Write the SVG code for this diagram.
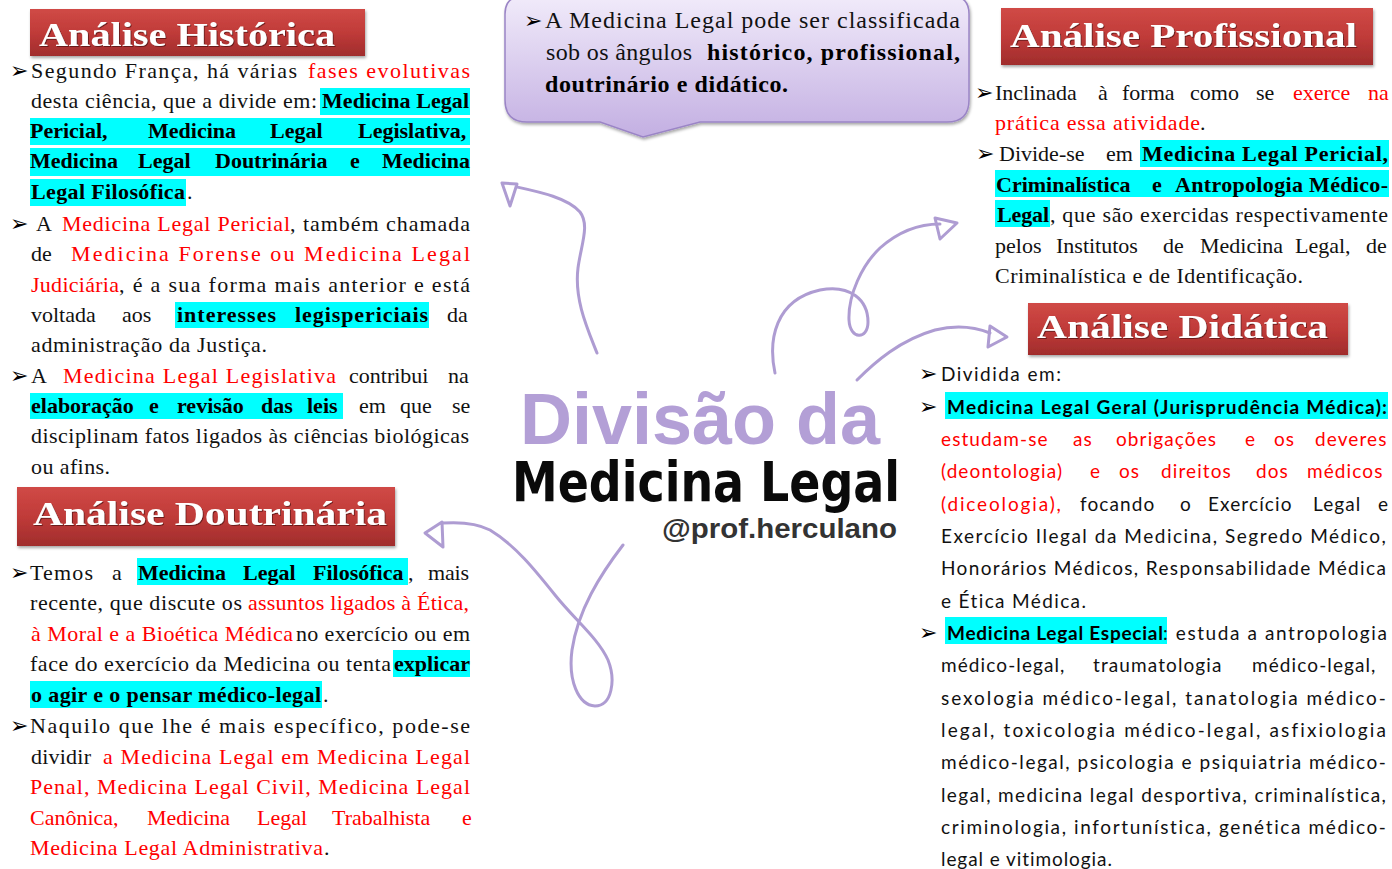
<svg xmlns="http://www.w3.org/2000/svg" width="1392" height="869" viewBox="0 0 1392 869">
<defs>
<linearGradient id="gRed" x1="0" y1="0" x2="0" y2="1"><stop offset="0" stop-color="#d04a46"/><stop offset="0.5" stop-color="#c03b39"/><stop offset="1" stop-color="#a02c2c"/></linearGradient>
<linearGradient id="gLav" x1="0" y1="0" x2="0" y2="1"><stop offset="0" stop-color="#f1ebfa"/><stop offset="1" stop-color="#c3afe2"/></linearGradient>
<filter id="sh" x="-5%" y="-15%" width="112%" height="140%"><feDropShadow dx="1" dy="2" stdDeviation="1.5" flood-color="#000" flood-opacity="0.35"/></filter>
<filter id="tsh" x="-5%" y="-20%" width="110%" height="150%"><feDropShadow dx="1" dy="1" stdDeviation="0.6" flood-color="#4a0a0a" flood-opacity="0.7"/></filter>
<style>
.s{font-family:"Liberation Serif","Times New Roman",serif;font-size:22px;fill:#111}
.cs{font-size:24px}
.k{font-family:Lato,"Open Sans",sans-serif;font-size:19px;fill:#111;letter-spacing:1.1px}
.b{font-weight:bold;fill:#000}
.r{fill:#ff0000}
.hl{fill:#00ffff}
.bu{font-family:"DejaVu Sans",sans-serif;font-size:22px;fill:#000}
.badge{fill:url(#gRed);filter:url(#sh)}
.bt{font-family:"Liberation Serif",serif;font-weight:bold;font-size:34px;fill:#fff;filter:url(#tsh)}
.cv{fill:none;stroke:#ae9cd2;stroke-width:3;stroke-linecap:round;stroke-linejoin:round}
</style>
</defs>
<rect width="1392" height="869" fill="#ffffff"/>

<g id="connectors">
<path class="cv" d="M597,353 C588,330 574,300 578,268 C581,245 590,225 580,212 C568,198 540,192 517,187"/>
<polygon class="cv" points="502,183 517,184 510,206"/>
<path class="cv" d="M775,373 C768,340 775,300 820,290 C850,284 868,300 868,322 C868,340 850,340 849,320 C848,295 862,265 880,248 C898,232 918,224 940,224"/>
<polygon class="cv" points="935,218 957,223 940,239"/>
<path class="cv" d="M857,380 C875,362 900,340 935,330 C955,325 975,327 990,333"/>
<polygon class="cv" points="990,326 1007,337 988,347"/>
<path class="cv" d="M623,545 C600,575 578,610 572,650 C568,680 578,705 595,706 C612,706 616,680 608,660 C598,638 575,620 555,595 C535,570 515,545 490,530 C475,522 458,522 443,523"/>
<polygon class="cv" points="425,533 442,522 443,547"/>
</g>

<g id="node-callout">
<path d="M524,-4 H951 Q969,-4 969,14 V100 Q969,122 947,122 H700 L643,137 L600,122 H527 Q505,122 505,100 V14 Q505,-4 524,-4 Z" fill="url(#gLav)" stroke="#9b85c6" stroke-width="1.5" filter="url(#sh)"/>
<text class="bu" x="524" y="28">➢</text>
<text class="s cs" x="545" y="28" textLength="415">A Medicina Legal pode ser classificada</text>
<text class="s cs" x="546" y="60" textLength="146">sob os ângulos</text>
<text class="s cs b" x="707" y="60" textLength="253">histórico, profissional,</text>
<text class="s cs b" x="545" y="92" textLength="243">doutrinário e didático.</text>
</g>

<g id="node-title">
<text x="520" y="444" font-family="Liberation Sans, Arial, sans-serif" font-weight="bold" font-size="72" fill="#b39fd6" textLength="360" lengthAdjust="spacingAndGlyphs">Divisão da</text>
<text x="512" y="501" font-family="DejaVu Sans Condensed, DejaVu Sans, sans-serif" font-weight="bold" font-size="56" fill="#0a0a0a" textLength="388" lengthAdjust="spacingAndGlyphs">Medicina Legal</text>
<text x="662" y="538" font-family="Liberation Sans, Arial, sans-serif" font-weight="bold" font-size="27" fill="#333333" textLength="235" lengthAdjust="spacingAndGlyphs">@prof.herculano</text>
</g>

<g id="node-historica">
<rect class="badge" x="30" y="9" width="335" height="47"/>
<text class="bt" x="39" y="46" textLength="296" lengthAdjust="spacingAndGlyphs">Análise Histórica</text>
<rect class="hl" x="320" y="88" width="150" height="27"/>
<rect class="hl" x="30" y="118" width="440" height="27"/>
<rect class="hl" x="30" y="148" width="440" height="28"/>
<rect class="hl" x="30" y="179" width="156" height="27"/>
<rect class="hl" x="175" y="302" width="254" height="26"/>
<rect class="hl" x="30" y="393" width="313" height="26"/>
<text class="bu" x="10" y="78">➢</text>
<text class="s" x="31" y="78" textLength="266">Segundo França, há várias</text>
<text class="s r" x="308" y="78" textLength="162">fases evolutivas</text>
<text class="s" x="31" y="108" textLength="286">desta ciência, que a divide em:</text>
<text class="s b" x="322" y="108" textLength="147">Medicina Legal</text>
<text class="s b" y="138"><tspan x="30">Pericial,</tspan><tspan x="148">Medicina</tspan><tspan x="270">Legal</tspan><tspan x="358">Legislativa,</tspan></text>
<text class="s b" y="168"><tspan x="30">Medicina</tspan><tspan x="138">Legal</tspan><tspan x="215">Doutrinária</tspan><tspan x="350">e</tspan><tspan x="382">Medicina</tspan></text>
<text class="s b" x="31" y="199" textLength="154">Legal Filosófica</text>
<text class="s" x="187" y="199">.</text>
<text class="bu" x="10" y="231">➢</text>
<text class="s" x="36" y="231">A</text>
<text class="s r" x="62" y="231" textLength="228">Medicina Legal Pericial</text>
<text class="s" x="290" y="231" textLength="180">, também chamada</text>
<text class="s" x="31" y="261">de</text>
<text class="s r" x="71" y="261" textLength="399">Medicina Forense ou Medicina Legal</text>
<text class="s r" x="31" y="292" textLength="88">Judiciária</text>
<text class="s" x="119" y="292" textLength="351">, é a sua forma mais anterior e está</text>
<text class="s" y="322"><tspan x="31">voltada</tspan><tspan x="122">aos</tspan><tspan x="447">da</tspan></text>
<text class="s b" x="177" y="322" textLength="99">interesses</text>
<text class="s b" x="295" y="322" textLength="133">legispericiais</text>
<text class="s" x="31" y="352" textLength="236">administração da Justiça.</text>
<text class="bu" x="10" y="383">➢</text>
<text class="s" x="31" y="383">A</text>
<text class="s r" x="63" y="383" textLength="273">Medicina Legal Legislativa</text>
<text class="s" y="383"><tspan x="349">contribui</tspan><tspan x="448">na</tspan></text>
<text class="s b" y="413"><tspan x="31">elaboração</tspan><tspan x="149">e</tspan><tspan x="177">revisão</tspan><tspan x="261">das</tspan><tspan x="307">leis</tspan></text>
<text class="s" y="413"><tspan x="359">em</tspan><tspan x="400">que</tspan><tspan x="452">se</tspan></text>
<text class="s" x="31" y="443" textLength="438">disciplinam fatos ligados às ciências biológicas</text>
<text class="s" x="31" y="474" textLength="79">ou afins.</text>
</g>

<g id="node-doutrinaria">
<rect class="badge" x="17" y="487" width="378" height="59"/>
<text class="bt" x="33" y="525" textLength="354" lengthAdjust="spacingAndGlyphs">Análise Doutrinária</text>
<rect class="hl" x="137" y="558" width="271" height="27"/>
<rect class="hl" x="393" y="650" width="77" height="27"/>
<rect class="hl" x="30" y="681" width="292" height="27"/>
<text class="bu" x="10" y="580">➢</text>
<text class="s" x="30" y="580" textLength="63">Temos</text>
<text class="s" x="112" y="580">a</text>
<text class="s b" y="580"><tspan x="138">Medicina</tspan><tspan x="243">Legal</tspan><tspan x="313">Filosófica</tspan></text>
<text class="s" x="408" y="580">,</text>
<text class="s" x="428" y="580" textLength="41">mais</text>
<text class="s" x="30" y="610" textLength="212">recente, que discute os</text>
<text class="s r" x="248" y="610" textLength="221">assuntos ligados à Ética,</text>
<text class="s r" x="31" y="641" textLength="262">à Moral e a Bioética Médica</text>
<text class="s" x="296" y="641" textLength="174">no exercício ou em</text>
<text class="s" x="30" y="671" textLength="361">face do exercício da Medicina ou tenta</text>
<text class="s b" x="394" y="671" textLength="76">explicar</text>
<text class="s b" x="31" y="702" textLength="290">o agir e o pensar médico-legal</text>
<text class="s" x="323" y="702">.</text>
<text class="bu" x="10" y="733">➢</text>
<text class="s" x="30" y="733" textLength="440">Naquilo que lhe é mais específico, pode-se</text>
<text class="s" x="31" y="764" textLength="60">dividir</text>
<text class="s r" x="103" y="764" textLength="367">a Medicina Legal em Medicina Legal</text>
<text class="s r" x="30" y="794" textLength="440">Penal, Medicina Legal Civil, Medicina Legal</text>
<text class="s r" y="825"><tspan x="30">Canônica,</tspan><tspan x="147">Medicina</tspan><tspan x="257">Legal</tspan><tspan x="332">Trabalhista</tspan><tspan x="462">e</tspan></text>
<text class="s r" x="30" y="855" textLength="293">Medicina Legal Administrativa</text>
<text class="s" x="324" y="855">.</text>
</g>

<g id="node-profissional">
<rect class="badge" x="1001" y="8" width="372" height="57"/>
<text class="bt" x="1010" y="47" textLength="347" lengthAdjust="spacingAndGlyphs">Análise Profissional</text>
<rect class="hl" x="1140" y="140" width="249" height="27"/>
<rect class="hl" x="995" y="170" width="394" height="27"/>
<rect class="hl" x="995" y="200" width="55" height="27"/>
<text class="bu" x="975" y="100">➢</text>
<text class="s" y="100"><tspan x="995">Inclinada</tspan><tspan x="1098">à</tspan><tspan x="1122">forma</tspan><tspan x="1190">como</tspan><tspan x="1256">se</tspan></text>
<text class="s r" y="100"><tspan x="1293">exerce</tspan><tspan x="1368">na</tspan></text>
<text class="s r" x="995" y="130" textLength="205">prática essa atividade</text>
<text class="s" x="1200" y="130">.</text>
<text class="bu" x="976" y="161">➢</text>
<text class="s" y="161"><tspan x="999">Divide-se</tspan><tspan x="1106">em</tspan></text>
<text class="s b" x="1142" y="161" textLength="246">Medicina Legal Pericial,</text>
<text class="s b" x="996" y="192">Criminalística</text>
<text class="s b" x="1152" y="192">e</text>
<text class="s b" x="1175" y="192" textLength="213">Antropologia Médico-</text>
<text class="s b" x="997" y="222" textLength="52">Legal</text>
<text class="s" x="1050" y="222" textLength="338">, que são exercidas respectivamente</text>
<text class="s" y="253"><tspan x="995">pelos</tspan><tspan x="1056">Institutos</tspan><tspan x="1163">de</tspan><tspan x="1200">Medicina</tspan><tspan x="1295">Legal,</tspan><tspan x="1366">de</tspan></text>
<text class="s" x="995" y="283" textLength="308">Criminalística e de Identificação.</text>
</g>

<g id="node-didatica">
<rect class="badge" x="1028" y="303" width="320" height="52"/>
<text class="bt" x="1037" y="338" font-size="32" textLength="291" lengthAdjust="spacingAndGlyphs">Análise Didática</text>
<rect class="hl" x="945" y="392" width="443" height="27"/>
<rect class="hl" x="945" y="617" width="222" height="27"/>
<text class="bu" x="919" y="381">➢</text>
<text class="k" x="941" y="381" textLength="121">Dividida em:</text>
<text class="bu" x="919" y="414">➢</text>
<text class="k b" x="947" y="414" textLength="440" style="letter-spacing:0">Medicina Legal Geral (Jurisprudência Médica):</text>
<text class="k r" y="446"><tspan x="941">estudam-se</tspan><tspan x="1073">as</tspan><tspan x="1116">obrigações</tspan><tspan x="1245">e</tspan><tspan x="1274">os</tspan><tspan x="1315">deveres</tspan></text>
<text class="k r" y="478"><tspan x="941">(deontologia)</tspan><tspan x="1090">e</tspan><tspan x="1119">os</tspan><tspan x="1161">direitos</tspan><tspan x="1256">dos</tspan><tspan x="1307">médicos</tspan></text>
<text class="k r" x="941" y="511" textLength="121">(diceologia),</text>
<text class="k" y="511"><tspan x="1080">focando</tspan><tspan x="1180">o</tspan><tspan x="1208">Exercício</tspan><tspan x="1313">Legal</tspan><tspan x="1378">e</tspan></text>
<text class="k" x="941" y="543" textLength="446">Exercício Ilegal da Medicina, Segredo Médico,</text>
<text class="k" x="941" y="575" textLength="446">Honorários Médicos, Responsabilidade Médica</text>
<text class="k" x="941" y="608" textLength="146">e Ética Médica.</text>
<text class="bu" x="919" y="640">➢</text>
<text class="k b" x="947" y="640" textLength="216" style="letter-spacing:0">Medicina Legal Especial</text>
<text class="k" x="1163" y="640" textLength="225">: estuda a antropologia</text>
<text class="k" y="672"><tspan x="941">médico-legal,</tspan><tspan x="1093">traumatologia</tspan><tspan x="1252">médico-legal,</tspan></text>
<text class="k" x="941" y="705" textLength="446">sexologia médico-legal, tanatologia médico-</text>
<text class="k" x="941" y="737" textLength="446">legal, toxicologia médico-legal, asfixiologia</text>
<text class="k" x="941" y="769" textLength="446">médico-legal, psicologia e psiquiatria médico-</text>
<text class="k" x="941" y="802" textLength="446">legal, medicina legal desportiva, criminalística,</text>
<text class="k" x="941" y="834" textLength="446">criminologia, infortunística, genética médico-</text>
<text class="k" x="941" y="866" textLength="172">legal e vitimologia.</text>
</g>
</svg>
